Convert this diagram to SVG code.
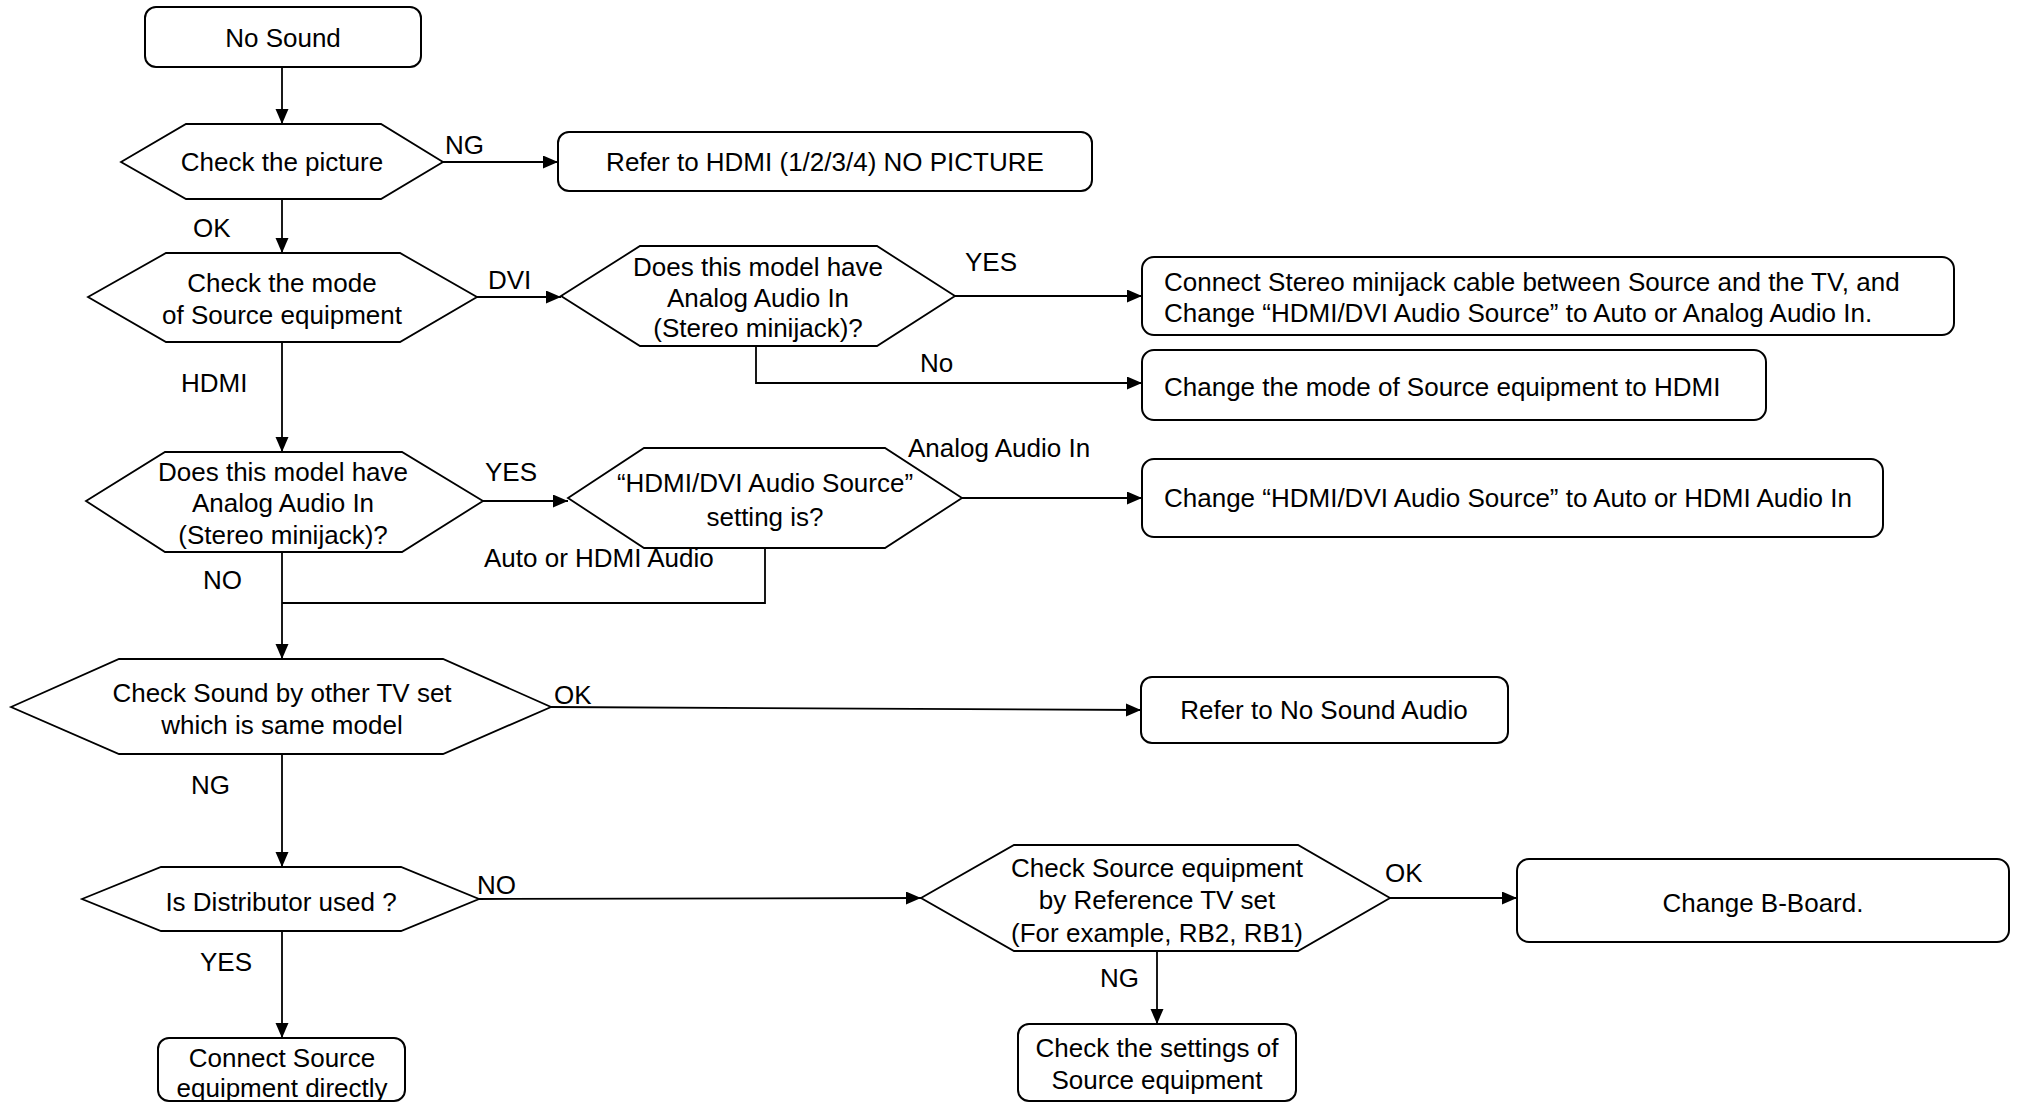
<svg xmlns="http://www.w3.org/2000/svg" width="2018" height="1102" viewBox="0 0 2018 1102">
<style>
  .box{fill:#fff;stroke:#000;stroke-width:2}
  .hex{fill:#fff;stroke:#000;stroke-width:1.8;stroke-linejoin:miter}
  .t{font-family:"Liberation Sans",Arial,sans-serif;font-size:26px;fill:#000}
  .c{text-anchor:middle}
  .ln{fill:none;stroke:#000;stroke-width:1.8}
</style>
<defs>
  <marker id="ah" markerUnits="userSpaceOnUse" markerWidth="16" markerHeight="14" refX="15" refY="6.5" orient="auto">
    <path d="M0,0 L15,6.5 L0,13 z" fill="#000"/>
  </marker>
</defs>
<rect width="2018" height="1102" fill="#fff"/>

<g id="connectors">
  <path class="ln" d="M282,67 V124" marker-end="url(#ah)"/>
  <path class="ln" d="M443,162 H558" marker-end="url(#ah)"/>
  <path class="ln" d="M282,199 V253" marker-end="url(#ah)"/>
  <path class="ln" d="M477,297 H561" marker-end="url(#ah)"/>
  <path class="ln" d="M955,296 H1142" marker-end="url(#ah)"/>
  <path class="ln" d="M756,346 V383 H1142" marker-end="url(#ah)"/>
  <path class="ln" d="M282,342 V452" marker-end="url(#ah)"/>
  <path class="ln" d="M483,501 H568" marker-end="url(#ah)"/>
  <path class="ln" d="M962,498 H1142" marker-end="url(#ah)"/>
  <path class="ln" d="M765,548 V603 H282"/>
  <path class="ln" d="M282,552 V659" marker-end="url(#ah)"/>
  <path class="ln" d="M551,707 L1141,710" marker-end="url(#ah)"/>
  <path class="ln" d="M282,754 V867" marker-end="url(#ah)"/>
  <path class="ln" d="M479,899 L921,898" marker-end="url(#ah)"/>
  <path class="ln" d="M282,931 V1038" marker-end="url(#ah)"/>
  <path class="ln" d="M1390,898 H1517" marker-end="url(#ah)"/>
  <path class="ln" d="M1157,951 V1024" marker-end="url(#ah)"/>
</g>

<g id="labels">
  <text class="t" x="445" y="154">NG</text>
  <text class="t" x="193" y="237">OK</text>
  <text class="t" x="488" y="289">DVI</text>
  <text class="t" x="965" y="271">YES</text>
  <text class="t" x="920" y="372">No</text>
  <text class="t" x="181" y="392">HDMI</text>
  <text class="t" x="485" y="481">YES</text>
  <text class="t" x="908" y="457">Analog Audio In</text>
  <text class="t" x="484" y="567">Auto or HDMI Audio</text>
  <text class="t" x="203" y="589">NO</text>
  <text class="t" x="554" y="704">OK</text>
  <text class="t" x="191" y="794">NG</text>
  <text class="t" x="477" y="894">NO</text>
  <text class="t" x="200" y="971">YES</text>
  <text class="t" x="1385" y="882">OK</text>
  <text class="t" x="1100" y="987">NG</text>
</g>

<g id="n-nosound">
  <rect class="box" x="145" y="7" width="276" height="60" rx="11"/>
  <text class="t c" x="283" y="47">No Sound</text>
</g>
<g id="n-checkpicture">
  <polygon class="hex" points="121,162 186,124 381,124 443,162 381,199 186,199"/>
  <text class="t c" x="282" y="171">Check the picture</text>
</g>
<g id="n-refer-hdmi">
  <rect class="box" x="558" y="132" width="534" height="59" rx="11"/>
  <text class="t c" x="825" y="171">Refer to HDMI (1/2/3/4) NO PICTURE</text>
</g>
<g id="n-checkmode">
  <polygon class="hex" points="88,297 166,253 400,253 477,297 400,342 166,342"/>
  <text class="t c" x="282" y="292">Check the mode</text>
  <text class="t c" x="282" y="324">of Source equipment</text>
</g>
<g id="n-dvi-analog">
  <polygon class="hex" points="561,296 640,246 877,246 955,296 877,346 640,346"/>
  <text class="t c" x="758" y="276">Does this model have</text>
  <text class="t c" x="758" y="307">Analog Audio In</text>
  <text class="t c" x="758" y="337">(Stereo minijack)?</text>
</g>
<g id="n-connect-stereo">
  <rect class="box" x="1142" y="257" width="812" height="78" rx="12"/>
  <text class="t" x="1164" y="291">Connect Stereo minijack cable between Source and the TV, and</text>
  <text class="t" x="1164" y="322">Change “HDMI/DVI Audio Source” to Auto or Analog Audio In.</text>
</g>
<g id="n-change-mode">
  <rect class="box" x="1142" y="350" width="624" height="70" rx="12"/>
  <text class="t" x="1164" y="396">Change the mode of Source equipment to HDMI</text>
</g>
<g id="n-hdmi-analog">
  <polygon class="hex" points="86,501 165,452 402,452 483,501 402,552 165,552"/>
  <text class="t c" x="283" y="481">Does this model have</text>
  <text class="t c" x="283" y="512">Analog Audio In</text>
  <text class="t c" x="283" y="544">(Stereo minijack)?</text>
</g>
<g id="n-audio-setting">
  <polygon class="hex" points="568,498 644,448 885,448 962,498 885,548 644,548"/>
  <text class="t c" x="765" y="492">“HDMI/DVI Audio Source”</text>
  <text class="t c" x="765" y="526">setting is?</text>
</g>
<g id="n-change-hdmi-audio">
  <rect class="box" x="1142" y="459" width="741" height="78" rx="12"/>
  <text class="t" x="1164" y="507">Change “HDMI/DVI Audio Source” to Auto or HDMI Audio In</text>
</g>
<g id="n-check-other-tv">
  <polygon class="hex" points="11,707 119,659 443,659 551,707 443,754 119,754"/>
  <text class="t c" x="282" y="702">Check Sound by other TV set</text>
  <text class="t c" x="282" y="734">which is same model</text>
</g>
<g id="n-refer-nosound">
  <rect class="box" x="1141" y="677" width="367" height="66" rx="11"/>
  <text class="t c" x="1324" y="719">Refer to No Sound Audio</text>
</g>
<g id="n-distributor">
  <polygon class="hex" points="82,899 161,867 401,867 479,899 401,931 161,931"/>
  <text class="t c" x="281" y="911">Is Distributor used ?</text>
</g>
<g id="n-check-ref-tv">
  <polygon class="hex" points="921,898 1014,845 1298,845 1390,898 1298,951 1014,951"/>
  <text class="t c" x="1157" y="877">Check Source equipment</text>
  <text class="t c" x="1157" y="909">by Reference TV set</text>
  <text class="t c" x="1157" y="942">(For example, RB2, RB1)</text>
</g>
<g id="n-change-bboard">
  <rect class="box" x="1517" y="859" width="492" height="83" rx="12"/>
  <text class="t c" x="1763" y="912">Change B-Board.</text>
</g>
<g id="n-connect-direct">
  <rect class="box" x="158" y="1038" width="247" height="63" rx="11"/>
  <text class="t c" x="282" y="1067">Connect Source</text>
  <text class="t c" x="282" y="1097">equipment directly</text>
</g>
<g id="n-check-settings">
  <rect class="box" x="1018" y="1024" width="278" height="77" rx="11"/>
  <text class="t c" x="1157" y="1057">Check the settings of</text>
  <text class="t c" x="1157" y="1089">Source equipment</text>
</g>
</svg>
